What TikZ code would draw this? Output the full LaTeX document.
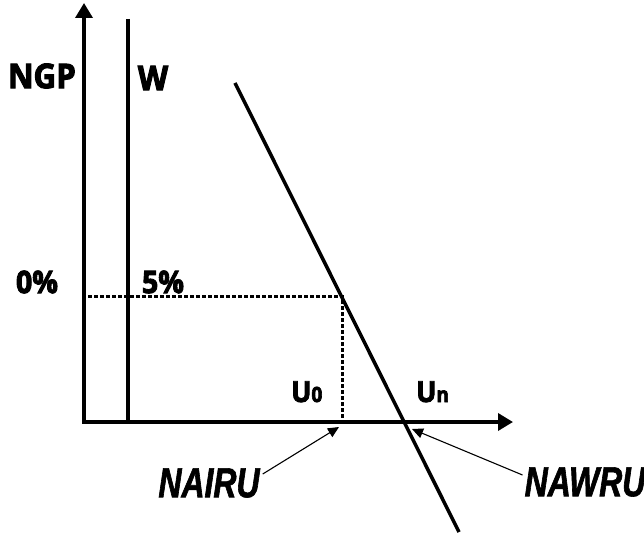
\documentclass[tikz,border=0pt]{standalone}
\usepackage{fontspec}
\setmainfont{Open Sans}
\newfontfamily\lblfont[FakeStretch=0.92,FakeBold=3]{Open Sans Bold}
\newfontfamily\condfont[FakeStretch=0.76,FakeBold=1.5]{Liberation Sans Bold Italic}
\usetikzlibrary{arrows.meta}
\begin{document}
\begin{tikzpicture}[x=1pt,y=-1pt,
  axis/.style={line width=3.5pt,-{Triangle[length=15pt,width=17pt]}},
  thick line/.style={line width=3.5pt},
  dotline/.style={line width=3pt,dash pattern=on 3.5pt off 2.5pt},
  pointer/.style={line width=1.1pt,-{Triangle[length=11pt,width=10pt]}},
  lbl/.style={font=\lblfont\fontsize{31}{31}\selectfont,inner sep=0pt},
  biglbl/.style={font=\lblfont\fontsize{34}{34}\selectfont,inner sep=0pt},
  ulbl/.style={font=\lblfont\fontsize{29}{29}\selectfont,inner sep=0pt},
  rate/.style={font=\condfont\fontsize{42}{42}\selectfont,inner sep=0pt}]
\useasboundingbox (0,0) rectangle (644,534);
\coordinate (O) at (84,422);
\coordinate (ytip) at (84,3);
\coordinate (xtip) at (513,422);
\coordinate (wtop) at (128,19);
\coordinate (wbot) at (128,422);
\coordinate (dtop) at (235,83);
\coordinate (dbot) at (459,532);
\coordinate (P) at (342,296);
\coordinate (Pb) at (342,420);
\coordinate (nairuhead) at (339,427);
\coordinate (nawruhead) at (412,429);
\draw[axis] ([yshift=1.75pt]O) -- (ytip);
\draw[axis] ([xshift=-1.75pt]O) -- (xtip);
\draw[thick line] (wtop) -- (wbot);
\draw[thick line] (dtop) -- (dbot);
\draw[dotline] (88,296) -- (P) -- (Pb);
\node[biglbl] (ngp) at (42,76) {NGP};
\node[biglbl] (w) at (153,78) {W};
\node[lbl] (z) at (37,282) {0\%};
\node[lbl] (f) at (163,282) {5\%};
\node[ulbl,anchor=base west] (u0) at (291,402) {U{\fontsize{21}{21}\selectfont 0}};
\node[ulbl,anchor=base west] (un) at (416,402) {U{\fontsize{21}{21}\selectfont n}};
\node[rate] (nairu) at (209,483) {NAIRU};
\node[rate] (nawru) at (585,482) {NAWRU};
\draw[pointer] (nairu.east) ++(3,-9) -- (nairuhead);
\draw[pointer] (nawru.west) ++(-2,-7) -- (nawruhead);
\end{tikzpicture}
\end{document}
